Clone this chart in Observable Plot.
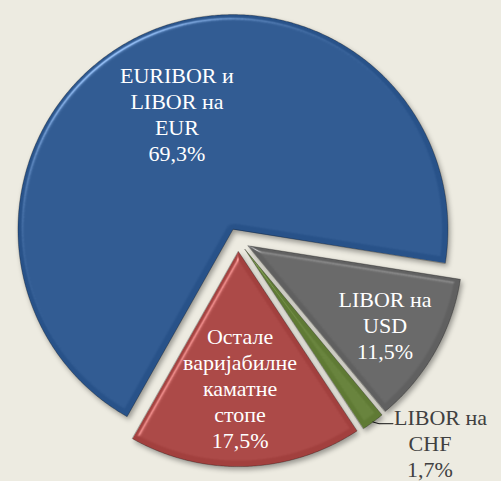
<!DOCTYPE html>
<html><head><meta charset="utf-8">
<script src="https://cdn.jsdelivr.net/npm/d3@7"></script>
<script src="https://cdn.jsdelivr.net/npm/@observablehq/plot@0.6"></script>
<style>
html,body{margin:0;padding:0;background:#EDEBE1;}
#chart{width:501px;height:481px;overflow:hidden;}
#chart svg text{font-family:"Liberation Serif","Tinos","Times New Roman","Noto Serif","DejaVu Serif",serif !important;}
</style></head><body><div id="chart"></div>
<script>
// ---- data ----
const names = ["EURIBOR и LIBOR на EUR", "LIBOR на USD", "LIBOR на CHF", "Остале варијабилне каматне стопе"];
const labelTexts = ["EURIBOR и\nLIBOR на\nEUR", "LIBOR на\nUSD", "LIBOR на\nCHF", "Остале\nваријабилне\nкаматне\nстопе"];
const values = [69.3, 11.5, 1.7, 17.5];
const valueLabels = ["69,3%", "11,5%", "1,7%", "17,5%"];
const colors = ["#285289", "#606060", "#5F7A34", "#A2403E"];

// ---- layout ----
const W = 501, H = 481, CX = 237.5, CY = 239.5, R = 215;
const startDeg = 209.5;          // clockwise from 12 o'clock
const explode = 11.6 / R;
const labelR = [0.6, 0.736, null, 0.635];
const labelDA = [0, 0.4, 0, 1.3];
const FONT = "Liberation Serif, Tinos, Times New Roman, Noto Serif, DejaVu Serif, serif";

const rad = d => d * Math.PI / 180;
const pt = (cx, cy, r, deg) => [cx + r * Math.sin(rad(deg)), cy + r * Math.cos(rad(deg))];
const total = d3.sum(values);
let acc = startDeg;
const slices = values.map((v, i) => {
  const a0 = acc, a1 = acc + v / total * 360; acc = a1;
  const mid = (a0 + a1) / 2;
  const [cx, cy] = pt(0, 0, explode, mid);
  const ring = [[cx, cy]];
  const n = Math.max(2, Math.ceil((a1 - a0) / 0.5));
  for (let k = 0; k <= n; k++) ring.push(pt(cx, cy, 1, a0 + (a1 - a0) * k / n));
  ring.push([cx, cy]);
  return {name: names[i], a0, a1, mid, cx, cy, geometry: {type: "Polygon", coordinates: [ring]}};
});

// inside labels
const inside = [];
slices.forEach((s, i) => {
  if (labelR[i] == null) return;
  const [x, y] = pt(s.cx, s.cy, labelR[i], s.mid + labelDA[i]);
  inside.push({x, y, text: labelTexts[i] + "\n" + valueLabels[i]});
});

// green (outside) label with leader
const g = slices[2];
const p0 = pt(g.cx, g.cy, 1.0, g.mid);
const leader = [
  {x: p0[0], y: p0[1]},
  {x: p0[0] + 6 / R, y: p0[1] - 1.7 / R},
  {x: p0[0] + 20 / R, y: p0[1] - 1.7 / R}
];
const gl = labelTexts[2].split("\n");
const outsideFirst = [{x: p0[0] + 21 / R, y: p0[1] - 2.7 / R, text: gl[0]}];
const outsideRest = [{x: p0[0] + 57 / R, y: p0[1] - 55.4 / R, text: gl.slice(1).join("\n") + "\n" + valueLabels[2]}];

const domain = {type: "MultiPoint", coordinates: [[-CX / R, -(H - CY) / R], [(W - CX) / R, CY / R]]};
const txt = {fontSize: 22, lineHeight: 26 / 22, fontFamily: FONT};

const plot = Plot.plot({
  width: W, height: H, margin: 0,
  projection: {type: "reflect-y", domain},
  color: {domain: names, range: colors},
  style: {background: "#EDEBE1", fontFamily: FONT},
  marks: [
    Plot.geo(slices, {geometry: d => d.geometry, fill: "name", stroke: "#000", strokeOpacity: 0.35, strokeWidth: 0.8}),
    Plot.line(leader, {x: "x", y: "y", stroke: "#111", strokeWidth: 1, curve: "linear"}),
    Plot.text(inside, {x: "x", y: "y", text: "text", fill: "#fff", lineAnchor: "middle", ...txt}),
    Plot.text(outsideFirst, {x: "x", y: "y", text: "text", fill: "#404040", lineAnchor: "bottom", textAnchor: "start", ...txt}),
    Plot.text(outsideRest, {x: "x", y: "y", text: "text", fill: "#404040", lineAnchor: "bottom", ...txt})
  ]
});

// bevel + shadow effect
const ns = "http://www.w3.org/2000/svg";
const defs = document.createElementNS(ns, "defs");
defs.innerHTML = `
<filter id="bevel" x="-10%" y="-10%" width="120%" height="120%" color-interpolation-filters="sRGB">
  <feGaussianBlur in="SourceAlpha" stdDeviation="2.5" result="blur"/>
  <feSpecularLighting in="blur" surfaceScale="4" specularConstant="0.7" specularExponent="30" lighting-color="#ffffff" result="spec">
    <feDistantLight azimuth="235" elevation="45"/>
  </feSpecularLighting>
  <feComposite in="spec" in2="SourceAlpha" operator="in" result="specIn"/>
  <feComposite in="SourceGraphic" in2="specIn" operator="arithmetic" k1="0" k2="1" k3="0.6" k4="0" result="lit"/>
  <feOffset in="SourceAlpha" dx="2" dy="3" result="off"/>
  <feGaussianBlur in="off" stdDeviation="2.5" result="offBlur"/>
  <feFlood flood-color="#000" flood-opacity="0.35"/>
  <feComposite in2="offBlur" operator="in" result="shadow"/>
  <feMerge><feMergeNode in="shadow"/><feMergeNode in="lit"/></feMerge>
</filter>`;
plot.prepend(defs);
const geoG = plot.querySelector('g[aria-label="geo"]');
if (geoG) geoG.setAttribute("filter", "url(#bevel)");
document.getElementById("chart").append(plot);
</script></body></html>
